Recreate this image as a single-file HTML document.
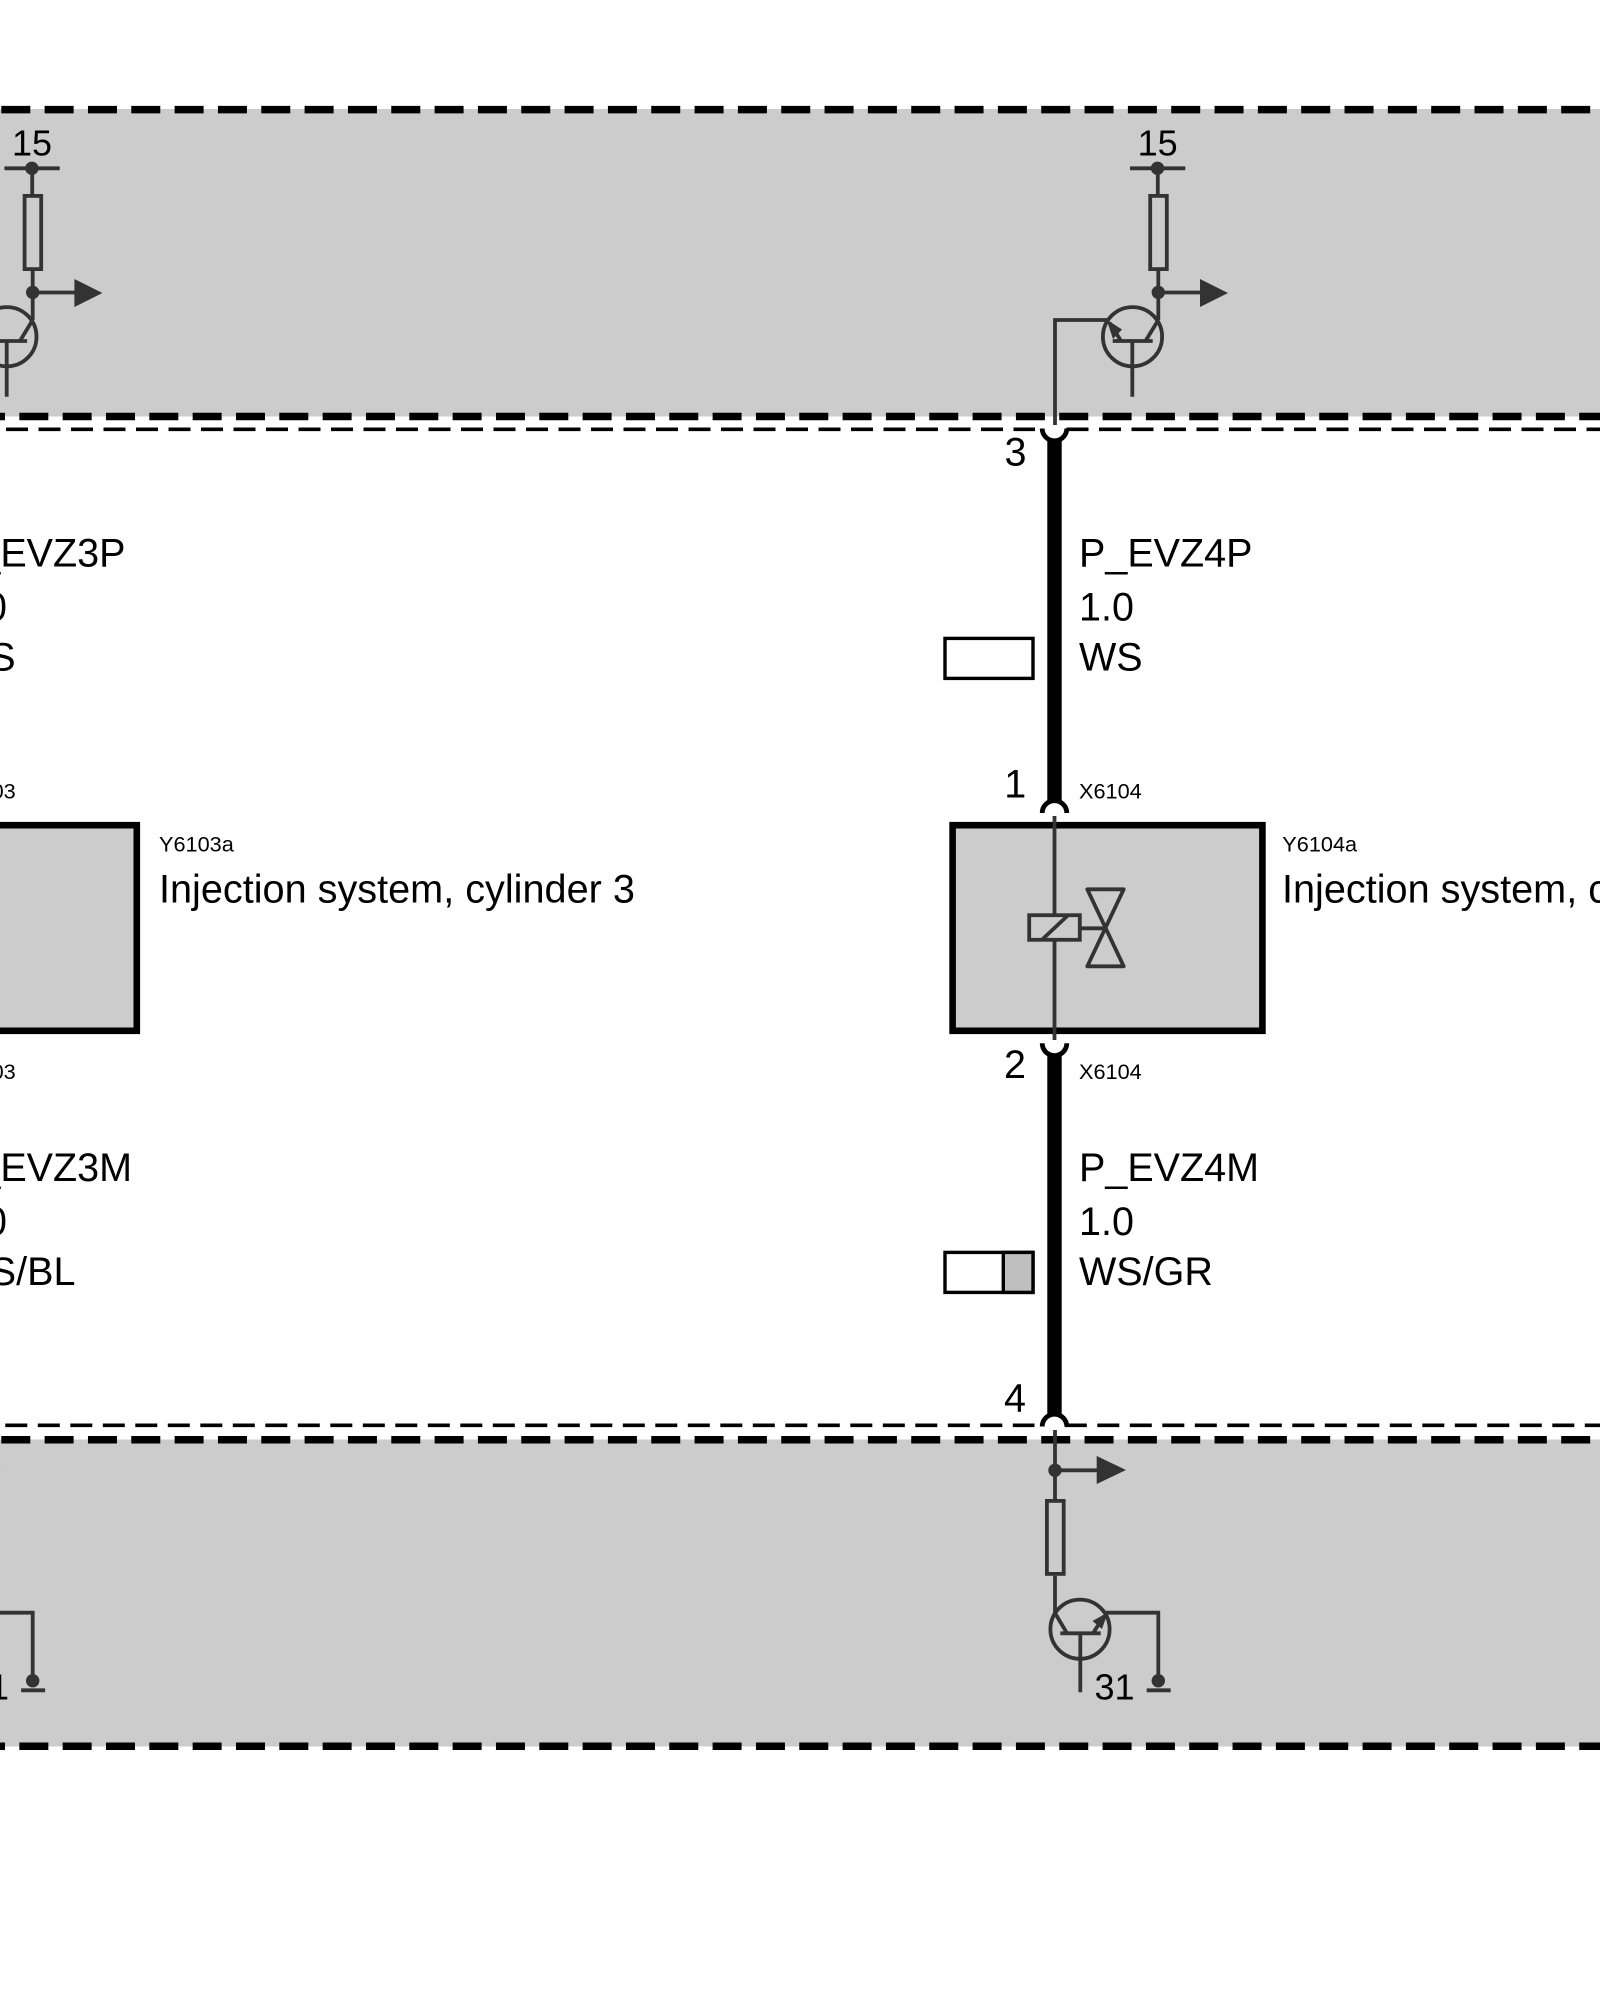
<!DOCTYPE html>
<html><head><meta charset="utf-8"><style>
html,body{margin:0;padding:0;background:#fff;width:1600px;height:2000px;overflow:hidden}
svg{display:block}
text{font-family:"Liberation Sans",Arial,sans-serif;fill:#000}
.b{font-size:39.5px}.i{font-size:39.65px}.s{font-size:21.7px}.n{font-size:36px}
</style></head><body>
<svg width="1600" height="2000" viewBox="0 0 1600 2000" xmlns="http://www.w3.org/2000/svg">
<defs>
<g id="unit">
<g fill="none" stroke="#333" stroke-width="3.8">
<!-- top circuit -->
<path d="M1130 168.3H1185.3M1157.8 168.3V194M1158.3 271V320"/>
<rect x="1150.2" y="195.9" width="16.6" height="73.2"/>
<path d="M1158.3 292.5H1202"/>
<circle cx="1132.5" cy="336.7" r="29.6"/>
<path d="M1158.3 320L1145.5 341M1112.7 341H1152.7M1132.3 341V396.7M1121 341L1110 323M1108 320H1055V425"/>
<!-- coil -->
<path d="M1054.5 816V914M1054.5 941V1040"/>
<rect x="1029.2" y="915.2" width="50.6" height="24.6"/>
<path d="M1041.7 940L1068.3 915M1081 928.3H1105M1087.3 889.3H1123.7L1087.3 966.3H1123.7Z" stroke-linejoin="round"/>
<!-- bottom circuit -->
<path d="M1055 1430V1499M1055 1575.7V1613"/>
<rect x="1046.9" y="1500.9" width="16.8" height="73"/>
<path d="M1055 1470.3H1098"/>
<circle cx="1080" cy="1629.2" r="29.6"/>
<path d="M1055 1613L1067 1633.3M1060.3 1633.3H1100.7M1080.3 1633.3V1692.3M1093 1633.3L1104 1616M1106 1612.7H1158.3V1680M1146.7 1690.3H1170.7"/>
</g>
<g fill="#333" stroke="none">
<circle cx="1157.5" cy="168.3" r="6.7"/>
<circle cx="1158.3" cy="292.4" r="6.7"/>
<polygon points="1200,279 1228,293 1200,307"/>
<polygon points="1106.5,319.5 1122,329.5 1113,339"/>
<circle cx="1055" cy="1470.3" r="6.7"/>
<polygon points="1096.7,1456 1126,1470 1096.7,1484"/>
<polygon points="1107.8,1612.5 1102,1629 1092.5,1621"/>
<circle cx="1158.3" cy="1680.7" r="6.7"/>
</g>
</g>
<g id="box"><rect x="952.6" y="825.2" width="309.8" height="205.6" fill="#ccc" stroke="#000" stroke-width="6.6"/></g>
</defs>

<rect x="0" y="109" width="1600" height="307.5" fill="#ccc"/>
<rect x="0" y="1439.5" width="1600" height="307" fill="#ccc"/>

<g fill="none" stroke="#000" stroke-width="7.5" stroke-dasharray="29 14.33">
<line x1="1.3" y1="109.6" x2="1600" y2="109.6"/>
<line x1="-24" y1="416.5" x2="1600" y2="416.5"/>
<line x1="1.3" y1="1439.7" x2="1600" y2="1439.7"/>
<line x1="-24" y1="1746.3" x2="1600" y2="1746.3"/>
</g>
<g fill="none" stroke="#000" stroke-width="3.7" stroke-dasharray="22 10.5">
<line x1="6" y1="429.3" x2="1035" y2="429.3"/>
<line x1="1066.5" y1="429.3" x2="1600" y2="429.3"/>
<line x1="5.3" y1="1425.3" x2="1034.5" y2="1425.3"/>
<line x1="1064.8" y1="1425.3" x2="1600" y2="1425.3"/>
</g>

<use href="#box" transform="translate(-1125.6 0)"/>
<use href="#box"/>
<use href="#unit" transform="translate(-1125.6 0)"/>
<use href="#unit"/>

<g fill="none" stroke="#000" stroke-width="4.8">
<path d="M1042.2 428.5A12.3 12.3 0 0 0 1066.8 428.5"/>
<path d="M1042.2 813A12.3 12.3 0 0 1 1066.8 813"/>
<path d="M1042.2 1043.3A12.3 12.3 0 0 0 1066.8 1043.3"/>
<path d="M1042.2 1426.5A12.3 12.3 0 0 1 1066.8 1426.5"/>
</g>
<rect x="1047.3" y="441" width="14.4" height="361" fill="#000"/>
<rect x="1047.3" y="1055" width="14.4" height="359" fill="#000"/>

<rect x="945" y="638.4" width="88" height="40" fill="#fff" stroke="#000" stroke-width="3.4"/>
<rect x="945" y="1252.4" width="88" height="40" fill="#fff" stroke="#000" stroke-width="3.4"/>
<rect x="1003.3" y="1252.4" width="29.7" height="40" fill="#bfbfbf" stroke="#000" stroke-width="3.4"/>

<text class="n" x="32" y="155.3" text-anchor="middle">15</text>
<text class="n" x="1157.6" y="155.3" text-anchor="middle">15</text>

<text class="b" x="1004.5" y="465.5">3</text>
<text class="b" x="1004.2" y="797.3">1</text>
<text class="b" x="1004" y="1078">2</text>
<text class="b" x="1004" y="1411.5">4</text>

<text class="b" x="1079" y="566.7">P_EVZ4P</text>
<text class="b" x="1079" y="620.5">1.0</text>
<text class="b" x="1079" y="670.3">WS</text>
<text class="b" x="1079" y="1181">P_EVZ4M</text>
<text class="b" x="1079" y="1235">1.0</text>
<text class="b" x="1079" y="1285">WS/GR</text>

<text class="b" x="-48" y="566.7">P_EVZ3P</text>
<text class="b" x="-48" y="620.5">1.0</text>
<text class="b" x="-48" y="670.3">WS</text>
<text class="b" x="-48" y="1181">P_EVZ3M</text>
<text class="b" x="-48" y="1235">1.0</text>
<text class="b" x="-47.5" y="1285">WS/BL</text>

<text class="s" x="1079" y="798.3">X6104</text>
<text class="s" x="1079" y="1079">X6104</text>
<text class="s" x="-47" y="798.3">X6103</text>
<text class="s" x="-47" y="1079">X6103</text>

<text class="s" x="1282.3" y="851.7">Y6104a</text>
<text class="s" x="159" y="851.7">Y6103a</text>
<text class="i" x="1282" y="902.7">Injection system, cylinder 4</text>
<text class="i" x="159" y="902.7">Injection system, cylinder 3</text>

<text class="n" x="1094.5" y="1699.5">31</text>
<text class="n" x="-31" y="1699.5">31</text>
</svg>
</body></html>
